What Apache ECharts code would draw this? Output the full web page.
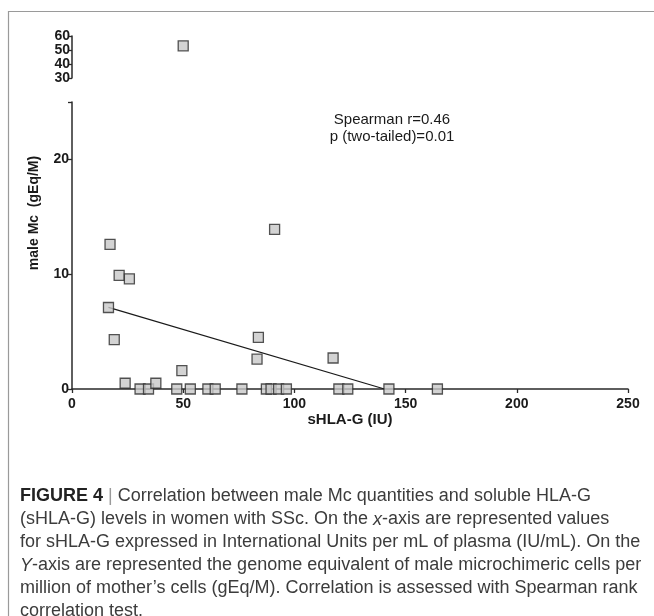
<!DOCTYPE html>
<html>
<head>
<meta charset="utf-8">
<script src="https://cdn.jsdelivr.net/npm/echarts@6/dist/echarts.min.js"></script>
<style>
  html, body { margin: 0; padding: 0; background: #fff; }
  #chart { width: 654px; height: 616px; }
</style>
</head>
<body>
<div id="chart"></div>
<script>
// sHLA-G (IU) vs male Mc (gEq/M)
const sHlaG = [16.4, 17.1, 19.0, 21.2, 23.9, 25.8, 30.6, 34.4, 37.7, 47.1, 49.4, 50.0, 53.2, 61.1,
  64.4, 76.4, 83.2, 83.8, 87.4, 89.5, 91.1, 92.9, 96.4, 117.4, 120.0, 124.0, 142.5, 164.3];
const maleMc = [7.1, 12.6, 4.3, 9.9, 0.5, 9.6, 0, 0, 0.5, 0, 1.6, 53, 0, 0,
  0, 0, 2.6, 4.5, 0, 0, 13.9, 0, 0, 2.7, 0, 0, 0, 0];

// fitted line end points
const fitX = [16.4, 140.5];
const fitY = [7.1, 0];

const xTicks = [0, 50, 100, 150, 200, 250];
const breakLow = 25;   // top of lower y segment
const breakHigh = 30;  // bottom of upper y segment

const captionLines = [
  "{b|FIGURE 4} {bar||} Correlation between male Mc quantities and soluble HLA-G",
  "(sHLA-G) levels in women with SSc. On the {i|x}-axis are represented values",
  "for sHLA-G expressed in International Units per mL of plasma (IU/mL). On the",
  "{i|Y}-axis are represented the genome equivalent of male microchimeric cells per",
  "million of mother\u2019s cells (gEq/M). Correlation is assessed with Spearman rank",
  "correlation test."
];

const lowerPts = [];
const upperPts = [];
sHlaG.forEach((x, i) => {
  if (maleMc[i] <= breakLow) lowerPts.push([x, maleMc[i]]);
  else upperPts.push([x, maleMc[i]]);
});

const font = "Liberation Sans, Arial, Helvetica, sans-serif";
const axisColor = "#2a2a2a";
const labelStyle = { color: "#1a1a1a", fontSize: 14, fontWeight: "bold", fontFamily: font };
const capSize = 18;

const markerStyle = {
  color: "#c8c8c8",
  borderColor: "#2a2a2a",
  borderWidth: 1.3,
};

const chart = echarts.init(document.getElementById("chart"), null, { renderer: "canvas" });

chart.setOption({
  animation: false,
  backgroundColor: "#fff",
  grid: [
    { left: 72, right: 26, top: 36, height: 42 },
    { left: 72, right: 26, top: 102, height: 287 },
  ],
  xAxis: [
    {
      type: "value", gridIndex: 0, min: 0, max: 250, interval: 50,
      show: false,
    },
    {
      type: "value", gridIndex: 1, min: xTicks[0], max: xTicks[xTicks.length - 1], interval: 50,
      axisLine: { lineStyle: { color: axisColor, width: 1.5 } },
      axisTick: { show: true, length: 4, lineStyle: { color: axisColor, width: 1.3 } },
      axisLabel: Object.assign({ margin: 8 }, labelStyle),
      splitLine: { show: false },
      name: "sHLA-G (IU)",
      nameLocation: "middle",
      nameGap: 21,
      nameTextStyle: Object.assign({}, labelStyle, { fontSize: 15 }),
    },
  ],
  yAxis: [
    {
      type: "value", gridIndex: 0, min: breakHigh, max: 60, interval: 10,
      axisLine: { show: true, lineStyle: { color: axisColor, width: 1.5 } },
      axisTick: { show: true, length: 4, lineStyle: { color: axisColor, width: 1.3 } },
      axisLabel: Object.assign({ margin: 2 }, labelStyle, { lineHeight: 14 }),
      splitLine: { show: false },
    },
    {
      type: "value", gridIndex: 1, min: 0, max: breakLow, interval: 10,
      axisLine: { show: true, lineStyle: { color: axisColor, width: 1.5 } },
      axisTick: { show: true, length: 4, lineStyle: { color: axisColor, width: 1.3 } },
      axisLabel: Object.assign({
        margin: 3,
        formatter: (v) => (v === breakLow ? "" : String(v)),
      }, labelStyle),
      splitLine: { show: false },
    },
  ],
  series: [
    {
      type: "scatter", xAxisIndex: 0, yAxisIndex: 0,
      data: upperPts, symbol: "rect", symbolSize: 10,
      itemStyle: markerStyle, z: 3,
    },
    {
      type: "line", xAxisIndex: 1, yAxisIndex: 1,
      data: fitX.map((x, i) => [x, fitY[i]]),
      symbol: "none",
      lineStyle: { color: "#1a1a1a", width: 1.3 },
      z: 2,
    },
    {
      type: "scatter", xAxisIndex: 1, yAxisIndex: 1,
      data: lowerPts, symbol: "rect", symbolSize: 10,
      itemStyle: markerStyle, z: 3,
    },
  ],
  graphic: [
    // figure frame (top and left edges visible)
    {
      type: "rect", shape: { x: 8.5, y: 11.5, width: 700, height: 700 },
      style: { fill: "none", stroke: "#9a9a9a", lineWidth: 1.2 }, silent: true,
    },
    {
      type: "text", x: 34, y: 213, rotation: Math.PI / 2,
      style: {
        text: "male Mc  (gEq/M)", fill: "#1a1a1a", font: "bold 14px " + font,
        align: "center", verticalAlign: "middle",
      },
    },
    {
      type: "text", x: 392, y: 128,
      style: {
        text: "Spearman r=0.46\np (two-tailed)=0.01", fill: "#1a1a1a",
        font: "15px " + font, align: "center", verticalAlign: "middle", lineHeight: 17,
      },
    },
    {
      type: "text", x: 20, y: 485,
      style: {
        text: captionLines.join("\n"),
        fill: "#3c3c3c",
        font: capSize + "px " + font,
        lineHeight: 23,
        rich: {
          b: { fontWeight: "bold", fontSize: capSize, fill: "#222", fontFamily: font, lineHeight: 23 },
          bar: { fill: "#9a9a9a", fontSize: capSize, fontFamily: font, lineHeight: 23 },
          i: { fontStyle: "italic", fontSize: capSize, fontFamily: font, lineHeight: 23 },
        },
      },
    },
  ],
});
</script>
</body>
</html>
